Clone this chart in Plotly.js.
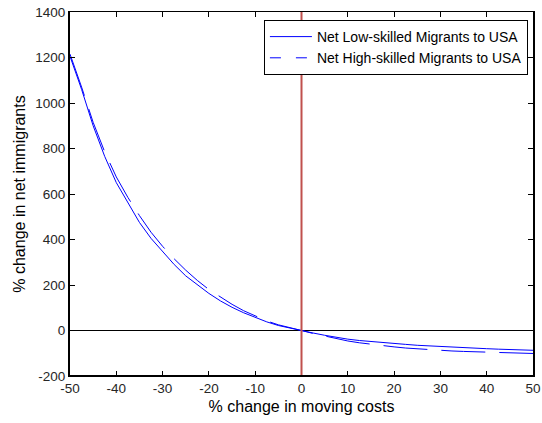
<!DOCTYPE html>
<html>
<head>
<meta charset="utf-8">
<script src="https://cdn.plot.ly/plotly-3.0.1.min.js"></script>
<style>
  html, body { margin: 0; padding: 0; background: #fff; }
  #chart { width: 542px; height: 423px; }
</style>
</head>
<body>
<div id="chart"></div>
<script>
// % change in moving costs
const movingCostChange = [-50, -47.5, -45, -42.5, -40, -37.5, -35, -32.5, -30, -27.5, -25,
  -22.5, -20, -17.5, -15, -12.5, -10, -7.5, -5, -2.5, 0, 2.5, 5, 7.5, 10, 12.5, 15,
  17.5, 20, 22.5, 25, 27.5, 30, 32.5, 35, 37.5, 40, 42.5, 45, 47.5, 50];

// % change in net immigrants, low-skilled
const lowSkilled = [1205, 1060, 900, 765, 650, 560, 475, 405, 345, 290, 240,
  200, 163, 130, 102, 78, 57, 38, 22, 10, 0, -11, -21, -30, -38, -44, -49,
  -53, -57, -61, -65, -68, -71, -74, -76, -78, -80, -82, -84, -86, -87];

// % change in net immigrants, high-skilled
const highSkilled = [1215, 1070, 915, 785, 675, 585, 505, 432, 370, 315, 265,
  220, 180, 146, 115, 87, 63, 42, 25, 11, 0, -13, -25, -36, -46, -54, -61,
  -67, -72, -77, -81, -84, -87, -90, -92, -94, -95, -97, -99, -100, -101];

const seriesNames = ['Net Low-skilled Migrants to USA', 'Net High-skilled Migrants to USA'];

const xTicks = [-50, -40, -30, -20, -10, 0, 10, 20, 30, 40, 50];
const yTicks = [-200, 0, 200, 400, 600, 800, 1000, 1200, 1400];

const blue = 'rgb(0,0,255)';
const font = 'Liberation Sans, Arial, sans-serif';

const traces = [
  {
    x: movingCostChange, y: lowSkilled, name: seriesNames[0], showlegend: false,
    type: 'scatter', mode: 'lines', hoverinfo: 'skip',
    line: { color: blue, width: 1 }
  },
  {
    x: movingCostChange, y: highSkilled, name: seriesNames[1], showlegend: false,
    type: 'scatter', mode: 'lines', hoverinfo: 'skip',
    line: { color: blue, width: 1, dash: '44px,14px' }
  },
  // legend keys (the dashed key uses a shorter pattern so it reads as dashed)
  {
    x: [null], y: [null], name: seriesNames[0], type: 'scatter', mode: 'lines',
    line: { color: blue, width: 1 }
  },
  {
    x: [null], y: [null], name: seriesNames[1], type: 'scatter', mode: 'lines',
    line: { color: blue, width: 1, dash: '11px,15px' }
  }
];

const axisBase = {
  showgrid: false, zeroline: false,
  showline: true, linecolor: '#000', mirror: 'ticks',
  ticks: 'inside', ticklen: 5, tickcolor: '#000', tickwidth: 1,
  tickfont: { family: font, size: 13.5, color: '#262626' }
};

const titleFont = { family: font, size: 16, color: '#000' };

const layout = {
  width: 542, height: 423,
  margin: { l: 70, r: 9, t: 12, b: 47 },
  paper_bgcolor: '#fff', plot_bgcolor: '#fff',
  showlegend: true,
  legend: {
    x: 0.989, xanchor: 'right', y: 0.978, yanchor: 'top',
    bgcolor: '#fff', bordercolor: '#000', borderwidth: 1,
    font: { family: font, size: 14, color: '#000' },
    itemwidth: 42, tracegroupgap: 0
  },
  xaxis: Object.assign({}, axisBase, {
    linewidth: 1,
    range: [-50, 50], tickvals: xTicks, ticktext: xTicks.map(String),
    title: { text: '% change in moving costs', font: titleFont, standoff: 5 }
  }),
  yaxis: Object.assign({}, axisBase, {
    linewidth: 2,
    range: [-200, 1400], tickvals: yTicks, ticktext: yTicks.map(String),
    title: { text: '% change in net immigrants', font: titleFont, standoff: 6 }
  }),
  shapes: [
    { type: 'line', xref: 'x', yref: 'paper', x0: 0, x1: 0, y0: 0, y1: 1,
      line: { color: 'rgb(192,80,77)', width: 2 }, layer: 'above' },
    { type: 'line', xref: 'paper', yref: 'y', x0: 0, x1: 1, y0: 0, y1: 0,
      line: { color: '#000', width: 1 }, layer: 'below' },
    // heavier bottom frame edge
    { type: 'line', xref: 'paper', yref: 'paper', x0: 0, x1: 1, y0: 0, y1: 0,
      line: { color: '#000', width: 2 }, layer: 'above' }
  ]
};

Plotly.newPlot('chart', traces, layout, { displayModeBar: false, staticPlot: true });
</script>
</body>
</html>
